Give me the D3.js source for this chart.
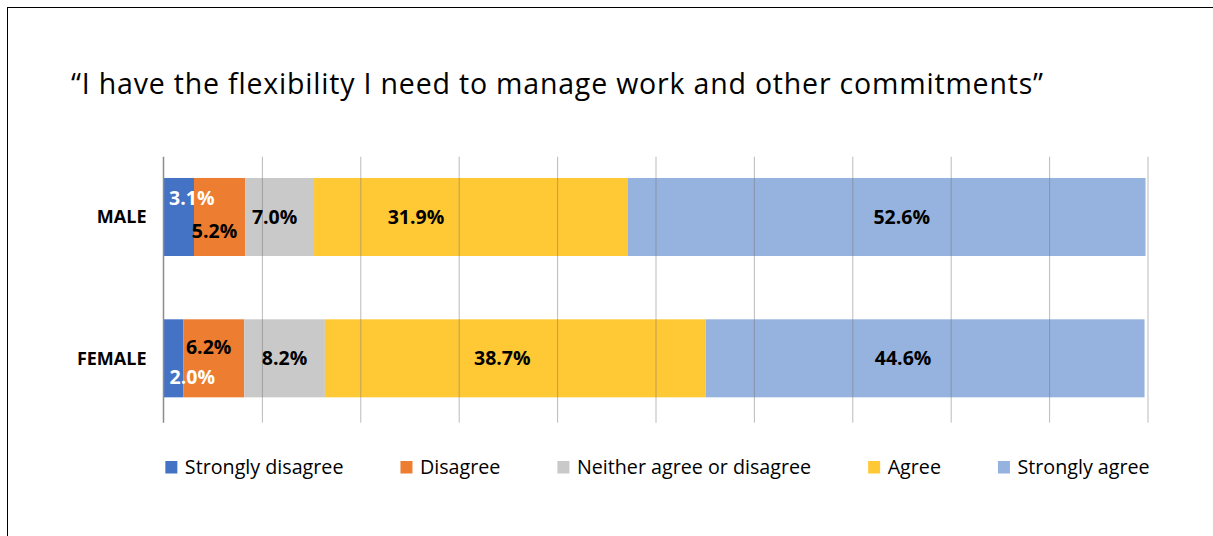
<!DOCTYPE html>
<html>
<head>
<meta charset="utf-8">
<script src="https://cdn.jsdelivr.net/npm/d3@7"></script>
<style>
  html, body { margin: 0; padding: 0; background: #fff; }
  svg { display: block; }
  text { font-family: "Open Sans", "Noto Sans", sans-serif; }
</style>
</head>
<body>
<svg id="chart" width="1213" height="536"></svg>
<script>
// Survey responses, percent of respondents
const categories = ["MALE", "FEMALE"];
const seriesNames = ["Strongly disagree", "Disagree", "Neither agree or disagree", "Agree", "Strongly agree"];
const stronglyDisagree = [3.1, 2.0];
const disagree = [5.2, 6.2];
const neither = [7.0, 8.2];
const agree = [31.9, 38.7];
const stronglyAgree = [52.6, 44.6];
const xTicks = [0, 10, 20, 30, 40, 50, 60, 70, 80, 90, 100];
const title = "\u201CI have the flexibility I need to manage work and other commitments\u201D";

const colors = ["#4472C4", "#ED7D31", "#C9C9C9", "#FFC935", "#95B3DE"];
const labelColors = ["#fff", "#000", "#000", "#000", "#000"];
// hand-placed label offsets (dx, dy) per series and category
const labelNudge = [
  [[13, -19], [19, 19]],
  [[-5, 14], [-5, -11]],
  [[-5, 0], [0, 0]],
  [[-55, 0], [-13, 0]],
  [[15, 0], [-22, 0]]
];

const seriesValues = [stronglyDisagree, disagree, neither, agree, stronglyAgree];
const rows = categories.map((c, i) => {
  const r = { category: c };
  seriesNames.forEach((s, k) => { r[s] = seriesValues[k][i]; });
  return r;
});
const stacked = d3.stack().keys(seriesNames)(rows);

const svg = d3.select("#chart");

// outer frame
svg.append("rect")
  .attr("x", 7.5).attr("y", 7.5)
  .attr("width", 1300).attr("height", 700)
  .attr("fill", "none").attr("stroke", "#000").attr("stroke-width", 1);

// title, tracked out to span the chart's title width
const titleText = svg.append("text")
  .attr("x", 71).attr("y", 94)
  .attr("font-size", 28.5)
  .attr("fill", "#000")
  .text(title);
{
  const w = titleText.node().getComputedTextLength();
  const spacing = (972 - w) / (title.length - 1);
  titleText.attr("letter-spacing", spacing);
}

const plot = { left: 163.5, right: 1147.5, top: 156.7, bottom: 422.7 };

const x = d3.scaleLinear().domain([0, 100]).range([plot.left, plot.right]);
const y = d3.scaleBand().domain(categories)
  .range([plot.top, plot.bottom])
  .paddingInner(0.448).paddingOuter(0.165).align(0.456);

// bars
const g = svg.append("g");
stacked.forEach((layer, k) => {
  g.selectAll(null).data(layer).enter().append("rect")
    .attr("x", d => x(d[0]))
    .attr("width", d => x(d[1]) - x(d[0]))
    .attr("y", d => y(d.data.category))
    .attr("height", y.bandwidth())
    .attr("fill", colors[k]);
});

// vertical gridlines over the bars
const xAxis = d3.axisBottom(x).tickValues(xTicks.slice(1))
  .tickSize(-(plot.bottom - plot.top)).tickFormat("");
const gx = svg.append("g").attr("transform", `translate(0,${plot.bottom})`).call(xAxis);
gx.select(".domain").remove();
gx.selectAll(".tick line").attr("stroke", "#777").attr("stroke-opacity", 0.5).attr("stroke-width", 1);

// category axis
const yAxis = d3.axisLeft(y).tickSize(0).tickPadding(17);
const gy = svg.append("g").attr("transform", `translate(${plot.left},0)`).call(yAxis);
gy.select(".domain").remove();
gy.append("line")
  .attr("x1", 0).attr("x2", 0)
  .attr("y1", plot.top).attr("y2", plot.bottom)
  .attr("stroke", "#8c8c8c").attr("stroke-width", 1.5);
gy.selectAll(".tick text")
  .attr("font-family", "'Open Sans', sans-serif")
  .attr("font-weight", "bold")
  .attr("font-size", 18)
  .attr("fill", "#000")
  .attr("dy", "0.36em");

// data labels
stacked.forEach((layer, k) => {
  svg.append("g").selectAll("text").data(layer).enter().append("text")
    .attr("x", (d, i) => (x(d[0]) + x(d[1])) / 2 + labelNudge[k][i][0])
    .attr("y", (d, i) => y(d.data.category) + y.bandwidth() / 2 + labelNudge[k][i][1])
    .attr("dy", "0.36em")
    .attr("text-anchor", "middle")
    .attr("font-weight", "bold")
    .attr("font-size", 19.5)
    .attr("fill", labelColors[k])
    .text(d => (d[1] - d[0]).toFixed(1) + "%");
});

// legend
const legend = svg.append("g");
const items = seriesNames.map((name, k) => {
  const it = legend.append("g");
  it.append("rect").attr("x", 0).attr("y", -12.5).attr("width", 12).attr("height", 12.5).attr("fill", colors[k]);
  const t = it.append("text").attr("x", 19.5).attr("y", 0).attr("font-size", 19.7).attr("fill", "#000").text(name);
  return { g: it, w: 19.5 + t.node().getComputedTextLength() };
});
const gap = 57;
const total = d3.sum(items, d => d.w) + gap * (items.length - 1);
let cx = 657.5 - total / 2;
items.forEach(it => {
  it.g.attr("transform", `translate(${cx},473.5)`);
  cx += it.w + gap;
});
</script>
</body>
</html>
